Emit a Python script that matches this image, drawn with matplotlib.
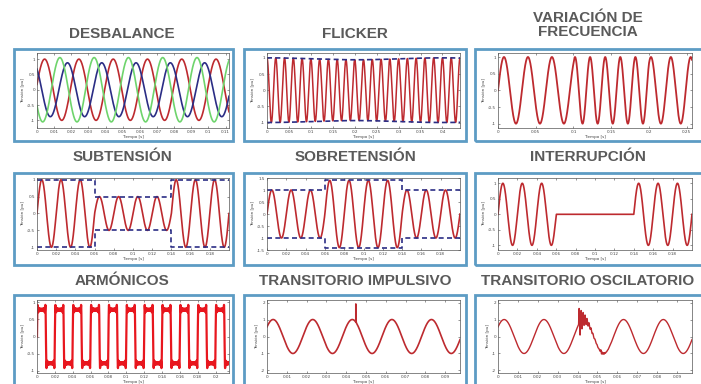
import numpy as np
import matplotlib.pyplot as plt
from matplotlib.patches import Rectangle
from matplotlib.ticker import FormatStrFormatter

# --- chart data -------------------------------------------------------------
titles = ['DESBALANCE', 'FLICKER', 'VARIACIÓN DE\nFRECUENCIA',
          'SUBTENSIÓN', 'SOBRETENSIÓN', 'INTERRUPCIÓN',
          'ARMÓNICOS', 'TRANSITORIO IMPULSIVO', 'TRANSITORIO OSCILATORIO']
f0 = 50.0  # Hz

# desbalance: amplitude and phase (deg) of each phase
unb_amp = [1.0, 0.88, 1.05]
unb_phase = [10.0, 130.0, -150.0]
unb_tmax = 0.112

# flicker: mean amplitude, modulation depth, modulation frequency
flk_mean, flk_dev, flk_fmod = 0.97, 0.03, 2.5
flk_tmax = 0.44

# frequency variation: segment limits (s) and frequency (Hz)
fv_edges = [0.0, 0.1, 0.2, 0.257]
fv_freq = [31.5, 50.0, 38.0]

# sag / swell / interruption: segment limits and amplitudes
seg_edges = [0.0, 0.06, 0.14, 0.2]
sag_amp = [1.0, 0.5, 1.0]
swell_amp = [1.0, 1.4, 1.0]
int_amp = [1.0, 0.0, 1.0]

# harmonics: orders and relative amplitudes
h_orders = [1, 3, 5, 7, 9, 11, 13, 15]
h_amps = [1.0, 0.333, 0.2, 0.143, 0.111, 0.091, 0.077, 0.067]
h_tmax = 0.215

# transients
tr_tmax = 0.0975
tr_phase = 0.6
imp_t0, imp_h, imp_tau = 0.04487, 1.1, 0.00006
osc_t0 = [0.0405, 0.0515]
osc_amp = [1.0, 0.12]
osc_tau = [0.0026, 0.0015]
osc_f = [1000.0, 1500.0]

# --- figure -----------------------------------------------------------------
W, H = 701, 384
fig = plt.figure(figsize=(W / 100, H / 100), dpi=100)
fig.patch.set_facecolor('white')

RED = '#bd2a2f'
BRIGHT = '#e8161e'
BLUE = '#2b2d85'
GREEN = '#6ed46c'
FRAME = '#5d9cc4'
TITLE = '#5a5a5a'

col_frame = [(14, 233), (244, 466), (475, 704)]
col_axes = [(37, 229), (267, 460), (498, 692)]
row_frame = [(49, 141), (173, 265), (295, 392)]
row_axes = [(53, 128), (178, 250), (300, 373)]
title_x = [122, 355, 588]
title_y = [34, 157, 281]


def make_axes(r, c):
    x0, x1 = col_axes[c]
    y0, y1 = row_axes[r]
    fx0, fx1 = col_frame[c]
    fy0, fy1 = row_frame[r]
    fig.patches.append(Rectangle((fx0 / W, 1 - fy1 / H), (fx1 - fx0) / W,
                                 (fy1 - fy0) / H, transform=fig.transFigure,
                                 fill=False, ec=FRAME, lw=2.0, zorder=0))
    ty = title_y[r] if titles[r * 3 + c].count('\n') == 0 else 25
    fig.text(title_x[c] / W, 1 - ty / H, titles[r * 3 + c], ha='center',
             va='center', fontsize=11, fontweight='bold', color=TITLE,
             family='Liberation Sans', linespacing=1.05)
    ax = fig.add_axes([x0 / W, 1 - y1 / H, (x1 - x0) / W, (y1 - y0) / H])
    for s in ax.spines.values():
        s.set_linewidth(0.5)
        s.set_color('#555555')
    ax.tick_params(direction='in', length=1.5, width=0.4, labelsize=3,
                   pad=1.5, top=True, right=True, colors='#444444')
    ax.xaxis.set_major_formatter(FormatStrFormatter('%g'))
    ax.yaxis.set_major_formatter(FormatStrFormatter('%g'))
    ax.set_xlabel('Tiempo [s]', fontsize=3, labelpad=1, color='#444444')
    ax.set_ylabel('Tensión [pu]', fontsize=3, labelpad=1, color='#444444')
    return ax


def seg_values(t, edges, vals):
    idx = np.clip(np.searchsorted(edges, t, side='right') - 1, 0, len(vals) - 1)
    return np.asarray(vals)[idx]


def step_env(edges, vals):
    xs = np.repeat(edges, 2)[1:-1]
    ys = np.repeat(vals, 2)
    return xs, ys


# 1 desbalance
ax = make_axes(0, 0)
t = np.linspace(0, unb_tmax, 3000)
for a, p, col in zip(unb_amp, unb_phase, [RED, BLUE, GREEN]):
    ax.plot(t, a * np.sin(2 * np.pi * f0 * t + np.deg2rad(p)), color=col, lw=1.2)
ax.set_xlim(0, unb_tmax)
ax.set_ylim(-1.25, 1.2)
ax.set_xticks(np.arange(0, 0.111, 0.01))
ax.set_yticks([-1, -0.5, 0, 0.5, 1])

# 2 flicker
ax = make_axes(0, 1)
t = np.linspace(0, flk_tmax, 6000)
env = flk_mean + flk_dev * np.cos(2 * np.pi * flk_fmod * t)
ax.plot(t, env * np.cos(2 * np.pi * f0 * t), color=RED, lw=1.1)
ax.plot(t, env, color=BLUE, lw=1.2, ls=(0, (3, 2)))
ax.plot(t, -env, color=BLUE, lw=1.2, ls=(0, (3, 2)))
ax.set_xlim(0, flk_tmax)
ax.set_ylim(-1.17, 1.15)
ax.set_xticks(np.arange(0, 0.41, 0.05))
ax.set_yticks([-1, -0.5, 0, 0.5, 1])

# 3 variacion de frecuencia
ax = make_axes(0, 2)
t = np.linspace(0, fv_edges[-1], 6000)
fr = seg_values(t, fv_edges, fv_freq)
ph = 2 * np.pi * np.concatenate([[0], np.cumsum(fr[:-1] * np.diff(t))])
ax.plot(t, np.sin(ph), color=RED, lw=1.3)
ax.set_xlim(0, fv_edges[-1])
ax.set_ylim(-1.13, 1.12)
ax.set_xticks(np.arange(0, 0.26, 0.05))
ax.set_yticks([-1, -0.5, 0, 0.5, 1])

# 4-6 sag, swell, interruption
for c, amps, ylim, yt in [(0, sag_amp, (-1.08, 1.05), [-1, -0.5, 0, 0.5, 1]),
                          (1, swell_amp, (-1.5, 1.5), [-1.5, -1, -0.5, 0, 0.5, 1, 1.5]),
                          (2, int_amp, (-1.15, 1.17), [-1, -0.5, 0, 0.5, 1])]:
    ax = make_axes(1, c)
    t = np.linspace(0, seg_edges[-1], 4000)
    a = seg_values(t, seg_edges, amps)
    ax.plot(t, a * np.sin(2 * np.pi * f0 * t), color=RED, lw=1.2)
    if c < 2:
        ex, ey = step_env(seg_edges, amps)
        ax.plot(ex, ey, color=BLUE, lw=1.2, ls=(0, (3, 2)))
        ax.plot(ex, -ey, color=BLUE, lw=1.2, ls=(0, (3, 2)))
    ax.set_xlim(0, seg_edges[-1])
    ax.set_ylim(*ylim)
    ax.set_xticks(np.arange(0, 0.19, 0.02))
    ax.set_yticks(yt)

# 7 armonicos
ax = make_axes(2, 0)
t = np.linspace(0, h_tmax, 8000)
v = np.zeros_like(t)
for n, a in zip(h_orders, h_amps):
    v += a * np.sin(2 * np.pi * n * f0 * t)
ax.plot(t, v, color=BRIGHT, lw=1.6)
ax.set_xlim(0, h_tmax)
ax.set_ylim(-1.07, 1.07)
ax.set_xticks(np.arange(0, 0.21, 0.02))
ax.set_yticks([-1, -0.5, 0, 0.5, 1])

# 8 transitorio impulsivo
ax = make_axes(2, 1)
t = np.linspace(0, tr_tmax, 20000)
v = np.sin(2 * np.pi * f0 * t + tr_phase)
dt = np.clip(t - imp_t0, 0, None)
v += np.where(t >= imp_t0, imp_h * np.exp(-dt / imp_tau), 0)
ax.plot(t, v, color=RED, lw=1.2)
ax.set_xlim(0, tr_tmax)
ax.set_ylim(-2.15, 2.15)
ax.set_xticks(np.arange(0, 0.091, 0.01))
ax.set_yticks([-2, -1, 0, 1, 2])

# 9 transitorio oscilatorio
ax = make_axes(2, 2)
t = np.linspace(0, tr_tmax, 20000)
v = np.sin(2 * np.pi * f0 * t + tr_phase)
for t0, a, tau, f in zip(osc_t0, osc_amp, osc_tau, osc_f):
    dt = np.clip(t - t0, 0, None)
    v += np.where(t >= t0, a * np.exp(-dt / tau) * np.sin(2 * np.pi * f * dt), 0)
ax.plot(t, v, color=RED, lw=1.0)
ax.set_xlim(0, tr_tmax)
ax.set_ylim(-2.15, 2.15)
ax.set_xticks(np.arange(0, 0.091, 0.01))
ax.set_yticks([-2, -1, 0, 1, 2])

fig.savefig('out.png', dpi=100)
